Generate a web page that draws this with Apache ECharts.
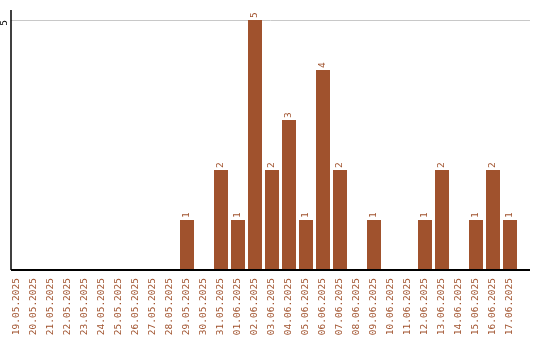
<!DOCTYPE html>
<html><head><meta charset="utf-8">
<script src="https://cdn.jsdelivr.net/npm/echarts@6/dist/echarts.min.js"></script>
<style>html,body{margin:0;padding:0;background:#fff}#c{width:540px;height:340px}</style>
</head><body><div id="c"></div>
<script>
const categories = ["19.05.2025","20.05.2025","21.05.2025","22.05.2025","23.05.2025","24.05.2025","25.05.2025","26.05.2025","27.05.2025","28.05.2025","29.05.2025","30.05.2025","31.05.2025","01.06.2025","02.06.2025","03.06.2025","04.06.2025","05.06.2025","06.06.2025","07.06.2025","08.06.2025","09.06.2025","10.06.2025","11.06.2025","12.06.2025","13.06.2025","14.06.2025","15.06.2025","16.06.2025","17.06.2025"];
const counts = [0,0,0,0,0,0,0,0,0,0,1,0,2,1,5,2,3,1,4,2,0,1,0,0,1,2,0,1,2,1];
const yTicks = [5];

const chart = echarts.init(document.getElementById('c'), null, {renderer:'canvas'});
const FONT = 'DejaVu Sans Mono';
const AXIS_X = 11, RIGHT_END = 530, TOP = 10;
chart.setOption({
  animation:false,
  grid:{left:8.5,right:21.5,top:TOP,bottom:70},
  xAxis:{type:'category',data:categories,boundaryGap:true,
    axisLine:{show:false},axisTick:{show:false},
    axisLabel:{rotate:90,interval:0,color:'#A0522D',fontFamily:FONT,fontSize:9.5,margin:8}},
  yAxis:{type:'value',min:0,max:5.2,interval:5,
    axisLine:{show:false},axisTick:{show:false},axisLabel:{show:false},splitLine:{show:false}},
  series:[{type:'bar',data:counts.map(v=>v===0?null:v),barWidth:14,
    itemStyle:{color:'#A0522D'},
    label:{show:true,position:'top',rotate:90,align:'left',verticalAlign:'middle',distance:2,
      color:'#A0522D',fontFamily:FONT,fontSize:9.5}}]
});
const y0 = chart.convertToPixel({yAxisIndex:0}, 0);
const g = [];
yTicks.forEach(t=>{
  const yy = chart.convertToPixel({yAxisIndex:0}, t);
  const y = Math.round(yy) + 0.5;
  g.push({type:'line',shape:{x1:AXIS_X,y1:y,x2:RIGHT_END,y2:y},style:{stroke:'#c8c8c8',lineWidth:1},z:1});
  g.push({type:'text',x:5,y:yy+3,rotation:Math.PI/2,
    style:{text:String(t),fill:'#000',font:'9.5px '+FONT,align:'center',verticalAlign:'middle'},z:10});
});
g.push({type:'line',shape:{x1:AXIS_X,y1:TOP,x2:AXIS_X,y2:y0},style:{stroke:'#000',lineWidth:1.5},z:10});
g.push({type:'line',shape:{x1:AXIS_X,y1:y0,x2:RIGHT_END,y2:y0},style:{stroke:'#000',lineWidth:2},z:10});
chart.setOption({graphic:g});
</script></body></html>
